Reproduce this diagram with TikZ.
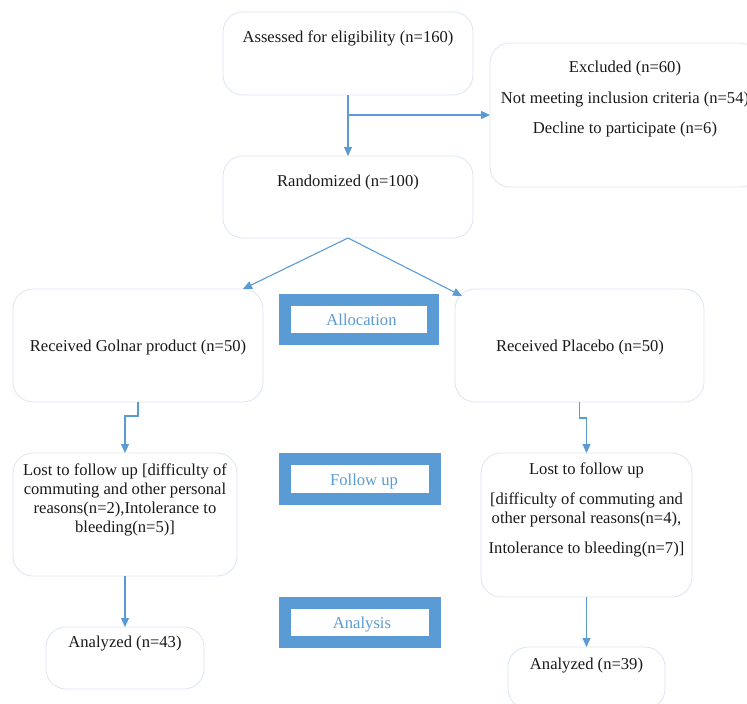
\documentclass[tikz,border=0pt]{standalone}
\usepackage{fontspec}
\setmainfont{Liberation Serif}
\usetikzlibrary{arrows.meta,shadows}
\definecolor{arrowblue}{HTML}{5B9BD5}
\definecolor{boxline}{HTML}{DCE4F3}
\begin{document}
\begin{tikzpicture}[x=1pt,y=-1pt,
  every node/.style={font=\fontsize{16.6}{19}\selectfont, inner sep=0pt, outer sep=0pt, text=black!90},
  flowbox/.style={draw=boxline, line width=0.8pt, rounded corners=20pt},
  band/.style={draw=arrowblue, fill=white, line width=12pt, text=arrowblue,
    text height=12pt, text depth=0pt,
    drop shadow={opacity=0.18, fill=black, shadow xshift=1.5pt, shadow yshift=-1.5pt}},
  arr/.style={draw=arrowblue, line width=1.1pt, -{Triangle[length=9pt,width=8pt]}},
  lbl/.style={anchor=base},
  mlbl/.style={anchor=north, align=center}]
\useasboundingbox (0,0) rectangle (747,704);

% boxes
\node[flowbox, minimum width=250pt, minimum height=83pt] (assess) at (348,53.5) {};
\node[flowbox, minimum width=270pt, minimum height=144pt] (excl) at (625,115) {};
\node[flowbox, minimum width=250pt, minimum height=82pt] (rand) at (348,197) {};
\node[flowbox, minimum width=250pt, minimum height=113pt] (gol) at (138,345.5) {};
\node[flowbox, minimum width=249pt, minimum height=113pt] (pla) at (579.5,345.5) {};
\node[flowbox, minimum width=224pt, minimum height=123pt] (lostL) at (125,514.5) {};
\node[flowbox, minimum width=211pt, minimum height=144pt] (lostR) at (586.5,525) {};
\node[flowbox, minimum width=158pt, minimum height=62pt] (anaL) at (125,658) {};
\node[flowbox, minimum width=157pt, minimum height=62pt] (anaR) at (586.5,678) {};

% texts
\node[lbl] (assessT) at (348,42) {Assessed for eligibility (n=160)};
\node[mlbl] (exclT) at (625,61) {Excluded (n=60)\\[11.5pt]Not meeting inclusion criteria (n=54)\\[11.5pt]Decline to participate (n=6)};
\node[lbl] (randT) at (348,186) {Randomized (n=100)};
\node[lbl] (golT) at (138,351) {Received Golnar product (n=50)};
\node[lbl] (plaT) at (580,351) {Received Placebo (n=50)};
\node[mlbl] (lostLT) at (125,464) {Lost to follow up [difficulty of\\commuting and other personal\\reasons(n=2),Intolerance to\\bleeding(n=5)]};
\node[mlbl] (lostRT) at (586.5,463) {Lost to follow up\\[11pt][difficulty of commuting and\\other personal reasons(n=4),\\[11pt]Intolerance to bleeding(n=7)]};
\node[lbl] (anaLT) at (125,647) {Analyzed (n=43)};
\node[lbl] (anaRT) at (586.5,669) {Analyzed (n=39)};

% stage bands
\node[band, minimum width=148pt, minimum height=39pt] (alloc) at (359,319.5) {\hspace*{5pt}Allocation};
\node[band, minimum width=150pt, minimum height=40pt] (follow) at (360,479) {\hspace*{8pt}Follow up};
\node[band, minimum width=150pt, minimum height=39pt] (analysis) at (360,622.5) {\hspace*{4pt}Analysis};

% connectors
\coordinate (br) at (348,115);
\coordinate (golIn) at (243,289);
\coordinate (plaIn) at (462,296);
\coordinate (kL) at (125,416);
\coordinate (kR) at (586.5,418);
\draw[arr] (assess.south) -- (rand.north);
\draw[arr] (br) -- (excl.west);
\draw[arr] (rand.south) -- (golIn);
\draw[arr] (rand.south) -- (plaIn);
\draw[arr] (gol.south) |- (kL) -- (lostL.north);
\draw[arr] (pla.south) |- (kR) -- (lostR.north);
\draw[arr] (lostL.south) -- (anaL.north);
\draw[arr] (lostR.south) -- (anaR.north);
\end{tikzpicture}
\end{document}
